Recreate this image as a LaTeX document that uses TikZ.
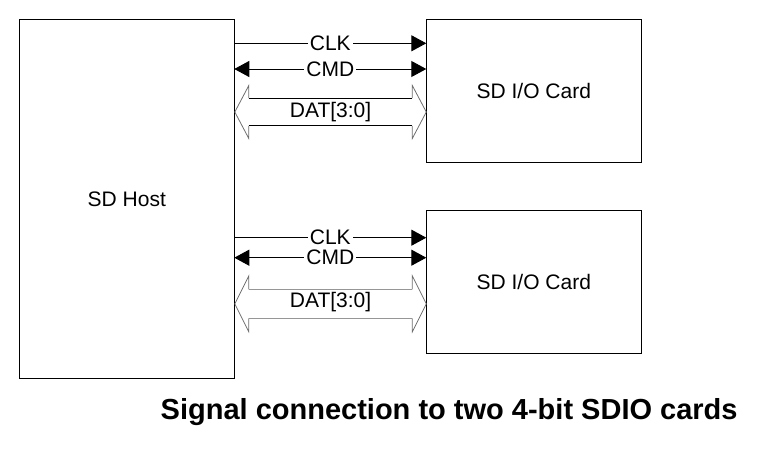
\documentclass[tikz,border=0pt]{standalone}
\usepackage{fontspec}
\setmainfont{Liberation Sans}
\usetikzlibrary{arrows.meta,calc}
\definecolor{headgray}{RGB}{110,110,110}
\definecolor{linegray}{RGB}{150,150,150}
\begin{document}
\begin{tikzpicture}[x=1pt,y=-1pt,
  box/.style={draw,line width=1.1pt,inner sep=0pt,outer sep=0pt,anchor=north west,
    minimum width=215pt,font=\fontsize{21}{24}\selectfont},
  sig/.style={line width=1pt},
  tipR/.style={-{Triangle[length=15pt,width=16pt]}},
  tipLR/.style={{Triangle[length=15pt,width=16pt]}-{Triangle[length=15pt,width=16pt]}},
  lbl/.style={fill=white,inner xsep=2pt,inner ysep=1pt,font=\fontsize{21}{24}\selectfont},
  dlbl/.style={inner sep=0pt,font=\fontsize{21}{24}\selectfont},
  bushead/.style={draw=headgray,line width=0.8pt,line join=miter},
  busA/.style={draw=black,line width=1pt},
  busB/.style={draw=linegray,line width=1.4pt},
]
\useasboundingbox (0,0) rectangle (757,452);

% boxes
\node[box,minimum height=359pt] (host) at (19.3,19.3) {SD Host};
\node[box,minimum height=143pt] (card1) at (426.3,19.3) {SD I/O Card};
\node[box,minimum height=143pt] (card2) at (426.3,210.3) {SD I/O Card};

% group 1
\draw[sig,tipR] (host.east |- 0,43.3) -- node[lbl]{CLK} (card1.west |- 0,43.3);
\draw[sig,tipLR] (host.east |- 0,69) -- node[lbl]{CMD} (card1.west |- 0,69);
\coordinate (b1l) at ($(host.east |- 0,112)+(0.5,0)$);
\coordinate (b1r) at (card1.west |- 0,112);
\draw[busA] ($(b1l)+(14,-13.85)$) -- ($(b1r)+(-14,-13.85)$);
\draw[busA] ($(b1l)+(14,13.85)$) -- ($(b1r)+(-14,13.85)$);
\draw[bushead] ($(b1l)+(14,-13.85)$) -- ++(0,-12.65) -- (b1l) -- ++(14,26.5) -- ++(0,-12.65);
\draw[bushead] ($(b1r)+(-14,-13.85)$) -- ++(0,-12.65) -- (b1r) -- ++(-14,26.5) -- ++(0,-12.65);
\node[dlbl] (d1) at ($(b1l)!0.5!(b1r)$) {DAT[3:0]};

% group 2
\draw[sig,tipR] (host.east |- 0,237.7) -- node[lbl]{CLK} (card2.west |- 0,237.7);
\draw[sig,tipLR] (host.east |- 0,257.7) -- node[lbl]{CMD} (card2.west |- 0,257.7);
\coordinate (b2l) at ($(host.east |- 0,303.8)+(0.5,0)$);
\coordinate (b2r) at (card2.west |- 0,303.8);
\draw[busB] ($(b2l)+(14,-14.5)$) -- ($(b2r)+(-14,-14.5)$);
\draw[busB] ($(b2l)+(14,14.5)$) -- ($(b2r)+(-14,14.5)$);
\draw[bushead] ($(b2l)+(14,-14.5)$) -- ++(0,-13.5) -- (b2l) -- ++(14,28) -- ++(0,-13.5);
\draw[bushead] ($(b2r)+(-14,-14.5)$) -- ++(0,-13.5) -- (b2r) -- ++(-14,28) -- ++(0,-13.5);
\node[dlbl] (d2) at ($(b2l)!0.5!(b2r)+(0,-1.5)$) {DAT[3:0]};

% caption
\node[anchor=base west,inner sep=0pt,font=\fontsize{29}{34}\selectfont\bfseries] (cap) at (160.5,419.7) {Signal connection to two 4-bit SDIO cards};
\end{tikzpicture}
\end{document}
